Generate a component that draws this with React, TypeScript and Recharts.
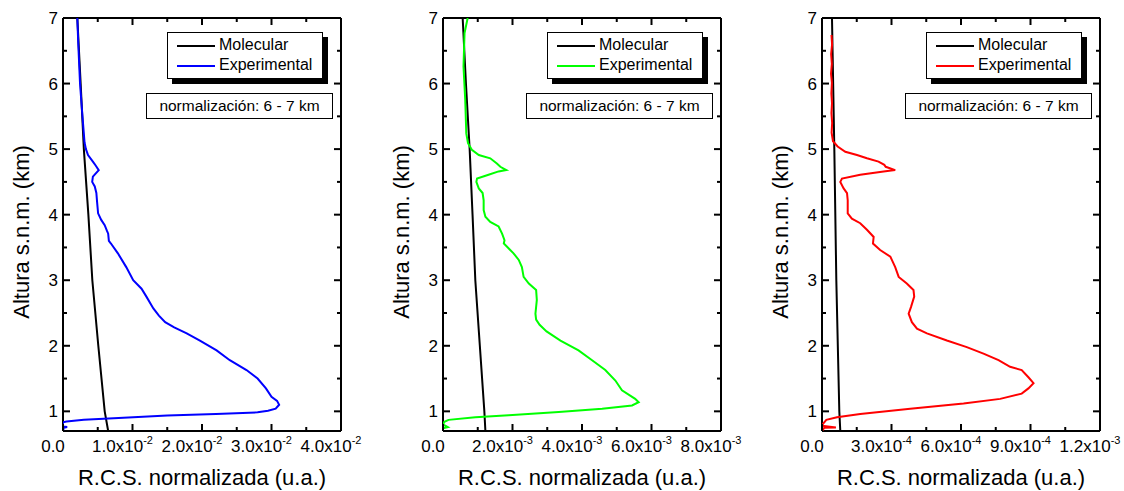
import React from 'react';
import { ScatterChart, Scatter, XAxis, YAxis, ReferenceLine, Legend } from 'recharts';

const FONT = '"Liberation Sans", Arial, sans-serif';

// shared altitude axis (km)
const altDomain: [number, number] = [0.7, 7];
const altTicks = [1, 1.5, 2, 2.5, 3, 3.5, 4, 4.5, 5, 5.5, 6, 6.5, 7];

// panel 1 (blue)
const xTicks1 = [0, 0.005, 0.01, 0.015, 0.02, 0.025, 0.03, 0.035, 0.04];
const xLabels1 = ['0.0', '1.0x10^-2', '2.0x10^-2', '3.0x10^-2', '4.0x10^-2'];
const mol1: [number, number][] = [
  [0.00206, 7], [0.00254, 6], [0.003, 5], [0.00365, 4], [0.00422, 3], [0.00508, 2], [0.006, 1], [0.0065, 0.7],
];
const exp1: [number, number][] = [
  [0.00206, 7], [0.0022, 6.6], [0.00245, 6], [0.0028, 5.5], [0.0031, 5.1], [0.0033, 5], [0.0036, 4.91],
  [0.0043, 4.81], [0.0047, 4.75], [0.00514, 4.68], [0.0043, 4.58], [0.0042, 4.5], [0.00457, 4.43],
  [0.0048, 4.33], [0.0049, 4.2], [0.00505, 4.02], [0.0055, 3.92], [0.006, 3.84], [0.0063, 3.76],
  [0.0065, 3.71], [0.0066, 3.6], [0.0069, 3.56], [0.0079, 3.41], [0.0091, 3.2], [0.0101, 3],
  [0.0113, 2.87], [0.012, 2.75], [0.013, 2.57], [0.0138, 2.46], [0.0147, 2.36], [0.016, 2.28],
  [0.0178, 2.19], [0.0197, 2.08], [0.0221, 1.93], [0.024, 1.78], [0.0264, 1.63], [0.028, 1.5],
  [0.0292, 1.35], [0.03, 1.22], [0.0308, 1.16], [0.0311, 1.1], [0.0306, 1.04], [0.0295, 1.01],
  [0.028, 0.985], [0.022, 0.96], [0.015, 0.935], [0.008, 0.9], [0.003, 0.87], [0.0005, 0.845],
  [0, 0.835], [0, 0.77], [0.0006, 0.76], [0.0001, 0.75], [0, 0.7],
];

// panel 2 (green)
const xTicks2 = [0, 0.001, 0.002, 0.003, 0.004, 0.005, 0.006, 0.007, 0.008];
const xLabels2 = ['0.0', '2.0x10^-3', '4.0x10^-3', '6.0x10^-3', '8.0x10^-3'];
const mol2: [number, number][] = [
  [0.000566, 7], [0.00066, 6], [0.000767, 5], [0.00085, 4], [0.00093, 3], [0.00106, 2], [0.00119, 1], [0.00122, 0.7],
];
const exp2: [number, number][] = [
  [0.00071, 7], [0.00062, 6.77], [0.00059, 6.26], [0.00064, 5.75], [0.00067, 5.24], [0.00072, 5.09],
  [0.00083, 4.99], [0.00103, 4.91], [0.00136, 4.86], [0.00155, 4.78], [0.00165, 4.73], [0.00182, 4.68],
  [0.0016, 4.66], [0.00131, 4.61], [0.00098, 4.55], [0.00096, 4.5], [0.00103, 4.4], [0.00114, 4.33],
  [0.00117, 4.22], [0.00117, 4.07], [0.00122, 3.97], [0.00136, 3.89], [0.0016, 3.82], [0.0017, 3.71],
  [0.00177, 3.61], [0.00175, 3.56], [0.00203, 3.41], [0.00218, 3.31], [0.00227, 3.2], [0.00232, 3.05],
  [0.00247, 2.95], [0.00268, 2.85], [0.0027, 2.7], [0.00266, 2.49], [0.00268, 2.4], [0.00278, 2.32],
  [0.00298, 2.22], [0.00338, 2.08], [0.0039, 1.93], [0.00429, 1.78], [0.00467, 1.63], [0.00496, 1.47],
  [0.00515, 1.32], [0.00553, 1.19], [0.00563, 1.14], [0.00544, 1.09], [0.00458, 1.04], [0.00333, 0.99],
  [0.00189, 0.94], [0.00093, 0.91], [0.00016, 0.87], [0.00004, 0.84], [0, 0.8], [0.00014, 0.76],
  [0, 0.74], [0, 0.7],
];

// panel 3 (red)
const xTicks3 = [0, 0.00015, 0.0003, 0.00045, 0.0006, 0.00075, 0.0009, 0.00105, 0.0012];
const xLabels3 = ['0.0', '3.0x10^-4', '6.0x10^-4', '9.0x10^-4', '1.2x10^-3'];
const mol3: [number, number][] = [
  [0.0000431, 7], [0.0000532, 5], [0.0000618, 3], [0.0000747, 1], [0.000079, 0.7],
];
const exp3: [number, number][] = [
  [0.000041, 6.74], [0.0000435, 6.6], [0.0000395, 6.45], [0.0000425, 6.3], [0.000039, 6.15],
  [0.0000428, 6.01], [0.0000405, 5.85], [0.0000432, 5.7], [0.0000408, 5.55], [0.0000438, 5.4],
  [0.0000415, 5.25], [0.0000474, 5.12], [0.0000675, 5.04], [0.0001006, 4.96],
  [0.000151, 4.91], [0.000194, 4.86], [0.000244, 4.81], [0.000269, 4.76], [0.000275, 4.73],
  [0.000316, 4.68], [0.000266, 4.66], [0.000165, 4.61], [0.0000862, 4.55], [0.000079, 4.5],
  [0.0000934, 4.4], [0.000108, 4.33], [0.000111, 4.22], [0.000111, 4.02], [0.000129, 3.94],
  [0.000165, 3.87], [0.000194, 3.77], [0.000223, 3.66], [0.00022, 3.56], [0.000251, 3.46],
  [0.000295, 3.36], [0.000316, 3.2], [0.000331, 3.05], [0.000366, 2.95], [0.000395, 2.85],
  [0.000398, 2.75], [0.000384, 2.59], [0.000374, 2.49], [0.000388, 2.36], [0.00041, 2.26],
  [0.000453, 2.19], [0.000539, 2.08], [0.000625, 1.98], [0.000697, 1.88], [0.000762, 1.78],
  [0.000812, 1.68], [0.000862, 1.63], [0.000891, 1.52], [0.000913, 1.43], [0.000891, 1.35],
  [0.000862, 1.27], [0.000769, 1.19], [0.000611, 1.12], [0.000381, 1.04], [0.000165, 0.96],
  [0.0000647, 0.91], [0.0000187, 0.87], [0.0000043, 0.81], [0, 0.78], [0.00006, 0.755],
  [0.00001, 0.75], [0, 0.7],
];

// plot box inside each chart
const PLOT_LEFT = 63;
const PLOT_TOP = 18;
const PLOT_W = 278;
const PLOT_H = 413;

const toPoints = (rows: [number, number][]) => rows.map(([v, h]) => ({ v, h }));

const XTick = (props: any) => {
  const { x, y, index, labels } = props;
  const major = index % 2 === 0;
  const len = major ? 7 : 4;
  const lab: string | null = major ? labels[index / 2] : null;
  const [mant, exp] = lab ? lab.split('^') : [null, null];
  return (
    <g>
      <line x1={x} x2={x} y1={y} y2={y - len} stroke="#000" strokeWidth={2} />
      <line x1={x} x2={x} y1={PLOT_TOP} y2={PLOT_TOP + len} stroke="#000" strokeWidth={2} />
      {mant && (
        <text x={x - 10} y={y + 21} textAnchor="middle" fontSize={17} fontFamily={FONT} fill="#000">
          {mant}
          {exp && (
            <tspan dy={-8} fontSize={11}>
              {exp}
            </tspan>
          )}
        </text>
      )}
    </g>
  );
};

const YTick = (props: any) => {
  const { x, y, payload } = props;
  const major = Number.isInteger(payload.value);
  const len = major ? 7 : 4;
  const right = PLOT_LEFT + PLOT_W;
  return (
    <g>
      <line x1={x} x2={x + len} y1={y} y2={y} stroke="#000" strokeWidth={2} />
      <line x1={right} x2={right - len} y1={y} y2={y} stroke="#000" strokeWidth={2} />
      {major && (
        <text x={x - 5} y={y + 6} textAnchor="end" fontSize={17} fontFamily={FONT} fill="#000">
          {payload.value}
        </text>
      )}
    </g>
  );
};

const LegendBox = ({ color }: { color: string }) => (
  <div
    style={{
      width: 156,
      height: 47,
      boxSizing: 'border-box',
      border: '1px solid #000',
      background: '#fff',
      boxShadow: '5px 5px 0 #000',
      position: 'relative',
      fontFamily: FONT,
      fontSize: 16,
      color: '#000',
    }}
  >
    {[
      { name: 'Molecular', stroke: '#000', top: 12 },
      { name: 'Experimental', stroke: color, top: 32 },
    ].map((r) => (
      <div key={r.name}>
        <div style={{ position: 'absolute', left: 9, top: r.top, width: 38, height: 2, background: r.stroke }} />
        <div style={{ position: 'absolute', left: 51, top: r.top - 10, lineHeight: '20px', whiteSpace: 'nowrap' }}>
          {r.name}
        </div>
      </div>
    ))}
  </div>
);

type PanelProps = {
  left: number;
  width: number;
  xMax: number;
  xTicks: number[];
  xLabels: string[];
  mol: [number, number][];
  exp: [number, number][];
  color: string;
};

const Panel = ({ left, width, xMax, xTicks, xLabels, mol, exp, color }: PanelProps) => {
  const right = width - PLOT_LEFT - PLOT_W;
  const bottom = 491 - PLOT_TOP - PLOT_H;
  return (
    <div style={{ position: 'absolute', left, top: 0, width, height: 491 }}>
      <ScatterChart
        width={width}
        height={491}
        margin={{ top: PLOT_TOP, right, bottom: 0, left: 0 }}
        style={{ fontFamily: FONT }}
      >
        <XAxis
          type="number"
          dataKey="v"
          domain={[0, xMax]}
          ticks={xTicks}
          interval={0}
          allowDataOverflow
          height={bottom}
          tickSize={0}
          tickMargin={0}
          tickLine={false}
          axisLine={{ stroke: '#000', strokeWidth: 2 }}
          tick={(p: any) => <XTick {...p} labels={xLabels} />}
          label={() => (
            <text x={PLOT_LEFT + PLOT_W / 2} y={485} textAnchor="middle" fontSize={22} fontFamily={FONT} fill="#000">
              R.C.S. normalizada (u.a.)
            </text>
          )}
        />
        <YAxis
          type="number"
          dataKey="h"
          domain={altDomain}
          ticks={altTicks}
          interval={0}
          allowDataOverflow
          width={PLOT_LEFT}
          tickSize={0}
          tickMargin={0}
          tickLine={false}
          axisLine={{ stroke: '#000', strokeWidth: 2 }}
          tick={(p: any) => <YTick {...p} />}
          label={() => (
            <text
              x={PLOT_LEFT - 34}
              y={232}
              transform={`rotate(-90 ${PLOT_LEFT - 34} 232)`}
              textAnchor="middle"
              fontSize={22}
              fontFamily={FONT}
              fill="#000"
            >
              Altura s.n.m. (km)
            </text>
          )}
        />
        <ReferenceLine x={xMax} stroke="#000" strokeWidth={2} ifOverflow="visible" />
        <ReferenceLine y={7} stroke="#000" strokeWidth={2} ifOverflow="visible" />
        <Scatter
          name="Molecular"
          data={toPoints(mol)}
          line={{ stroke: '#000', strokeWidth: 2 }}
          shape={() => <g />}
          isAnimationActive={false}
        />
        <Scatter
          name="Experimental"
          data={toPoints(exp)}
          line={{ stroke: color, strokeWidth: 2 }}
          shape={() => <g />}
          isAnimationActive={false}
        />
        <Legend
          layout="horizontal"
          verticalAlign="middle"
          align="center"
          content={() => <LegendBox color={color} />}
          wrapperStyle={{ left: PLOT_LEFT + PLOT_W - 18 - 156, top: 32, width: 156, height: 47 }}
        />
      </ScatterChart>
      <div
        style={{
          position: 'absolute',
          left: PLOT_LEFT + PLOT_W - 8 - 187,
          top: 93,
          width: 187,
          height: 26,
          boxSizing: 'border-box',
          border: '1px solid #000',
          background: '#fff',
          fontFamily: FONT,
          fontSize: 15.5,
          lineHeight: '24px',
          textAlign: 'center',
          whiteSpace: 'nowrap',
          color: '#000',
        }}
      >
        normalización: 6 - 7 km
      </div>
    </div>
  );
};

export default function App() {
  return (
    <div style={{ position: 'absolute', left: 0, top: 0, width: 1124, height: 491, background: '#fff', overflow: 'hidden' }}>
      <Panel left={0} width={375} xMax={0.04} xTicks={xTicks1} xLabels={xLabels1} mol={mol1} exp={exp1} color="#0000ff" />
      <Panel left={380} width={375} xMax={0.008} xTicks={xTicks2} xLabels={xLabels2} mol={mol2} exp={exp2} color="#00ff00" />
      <Panel left={759} width={365} xMax={0.0012} xTicks={xTicks3} xLabels={xLabels3} mol={mol3} exp={exp3} color="#ff0000" />
    </div>
  );
}
